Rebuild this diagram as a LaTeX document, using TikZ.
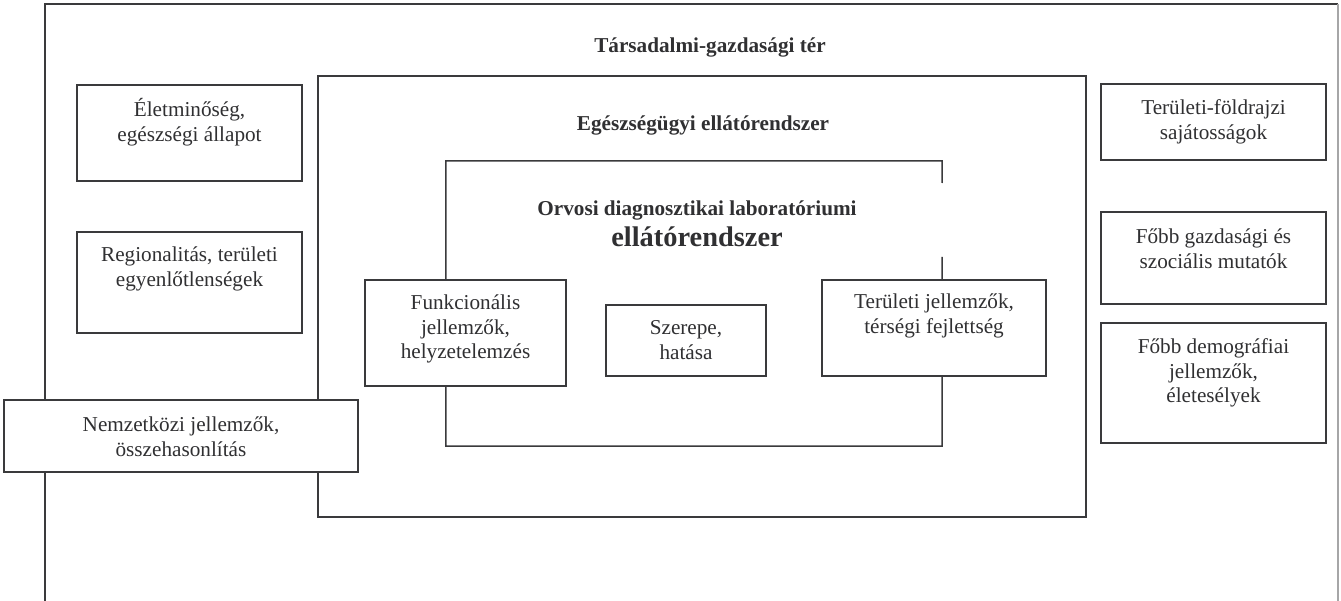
\documentclass[tikz,border=0pt]{standalone}
\usepackage{fontspec}
\setmainfont{Liberation Serif}
\usetikzlibrary{positioning}

\definecolor{ccline}{RGB}{58,58,60}
\definecolor{cctext}{RGB}{48,48,50}

\tikzset{
  box/.style={draw=ccline, line width=1.4pt, fill=white, inner sep=0pt},
  boxtext/.style={text=cctext, align=center, inner sep=0pt, font=\fontsize{21.2}{24.6}\selectfont},
  headtext/.style={text=cctext, align=center, inner sep=0pt, font=\fontsize{21.2}{24.6}\selectfont\bfseries},
}

\begin{document}
\begin{tikzpicture}[x=1pt, y=-1pt]

  % Bounding box of the scheme
  \useasboundingbox (0,0) rectangle (1341,601);

  %%%%%%%%%%%%%%%%%%%%%%%%%%%%%%%%% Nested frames %%%%%%%%%%%%%%%%%%%%%%%%%%%%%%%%%%%%
  \draw[color=ccline, line width=1.4pt] (45,601) -- (45,4) -- (1338,4) ;
  \draw[color=ccline!45, line width=1.4pt] (1338,4) -- (1338,601) ;

  \draw (702,296.5) node[box, minimum width=768, minimum height=441] (egeszs) {} ;

  % lab frame, its right side is broken
  \draw (694,303.5) node[inner sep=0pt, minimum width=496, minimum height=285] (labor) {} ;
  \draw[color=ccline, line width=1.5pt] (942,183) -- (labor.north east) -- (labor.north west)
        -- (labor.south west) -- (labor.south east) -- (942,257) ;

  %%%%%%%%%%%%%%%%%%%%%%%%%%%%%%%%% Titles %%%%%%%%%%%%%%%%%%%%%%%%%%%%%%%%%%%%
  \draw (710,47) node[headtext] {Társadalmi-gazdasági tér} ;
  \draw (703,125) node[headtext] {Egészségügyi ellátórendszer} ;
  \draw (697,224) node[headtext] {Orvosi diagnosztikai laboratóriumi\\[6pt]
        \fontsize{28.4}{30}\selectfont ellátórendszer} ;

  %%%%%%%%%%%%%%%%%%%%%%%%%%%%%%%%% Boxes on the left %%%%%%%%%%%%%%%%%%%%%%%%%%%%%%%%%%%%
  \draw (189.5,133) node[box, minimum width=225, minimum height=96] (eletm) {} ;
  \draw (189.5,282.5) node[box, minimum width=225, minimum height=101] (regio) {} ;
  \draw (181,436) node[box, minimum width=354, minimum height=72] (nemzet) {} ;

  \draw (189.5,122) node[boxtext] {Életminőség,\\egészségi állapot} ;
  \draw (189.5,269) node[boxtext] {Regionalitás, területi\\egyenlőtlenségek} ;
  \draw (181,437) node[boxtext] {Nemzetközi jellemzők,\\összehasonlítás} ;

  %%%%%%%%%%%%%%%%%%%%%%%%%%%%%%%%% Boxes inside the lab frame %%%%%%%%%%%%%%%%%%%%%%%%%%%%%%%%%%%%
  \draw (465.5,333) node[box, minimum width=201, minimum height=106] (funkc) {} ;
  \draw (686,340.5) node[box, minimum width=160, minimum height=71] (szerep) {} ;
  \draw (934,328) node[box, minimum width=224, minimum height=96] (terjell) {} ;

  \draw (465.5,329) node[boxtext] {Funkcionális\\jellemzők,\\helyzetelemzés} ;
  \draw (686,340) node[boxtext] {Szerepe,\\hatása} ;
  \draw (934,316) node[boxtext] {Területi jellemzők,\\térségi fejlettség} ;

  %%%%%%%%%%%%%%%%%%%%%%%%%%%%%%%%% Boxes on the right %%%%%%%%%%%%%%%%%%%%%%%%%%%%%%%%%%%%
  \draw (1213.5,122) node[box, minimum width=225, minimum height=76] (foldr) {} ;
  \draw (1213.5,258) node[box, minimum width=225, minimum height=92] (gazdas) {} ;
  \draw (1213.5,383) node[box, minimum width=225, minimum height=120] (demogr) {} ;

  \draw (1213.5,122) node[boxtext] {Területi-földrajzi\\sajátosságok} ;
  \draw (1213.5,249) node[boxtext] {Főbb gazdasági és\\szociális mutatók} ;
  \draw (1213.5,373) node[boxtext] {Főbb demográfiai\\jellemzők,\\életesélyek} ;

\end{tikzpicture}
\end{document}
